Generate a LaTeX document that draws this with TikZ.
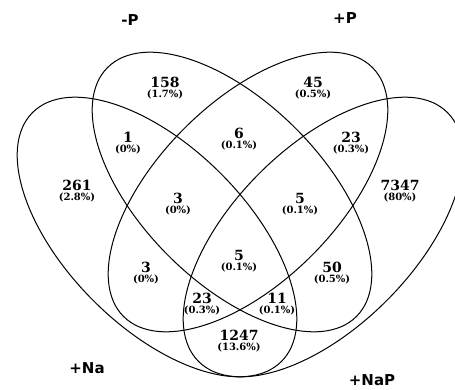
\documentclass[tikz,border=0pt]{standalone}
\usepackage{fontspec}
\newfontfamily\numfont{DejaVu Serif}
\newfontfamily\labfont{DejaVu Sans}
\tikzset{
  setline/.style={line width=1pt, draw=black},
  numtxt/.style={font=\numfont\bfseries\fontsize{14}{14}\selectfont, inner sep=0pt},
  pcttxt/.style={font=\numfont\bfseries\fontsize{10}{10}\selectfont, inner sep=0pt},
  settxt/.style={font=\labfont\bfseries\fontsize{15}{15}\selectfont, inner sep=0pt},
}
\newcommand\vregion[5]{%
  \node[numtxt] (#1n) at (#2,{389-#3}) {#4};
  \node[pcttxt] (#1p) at (#2,{389-#3-12}) {#5};
}
\begin{document}
\begin{tikzpicture}[x=1pt,y=1pt]
\useasboundingbox (0,0) rectangle (455,389);
\clip (0,0) rectangle (455,389);
\fill[white] (0,0) rectangle (455,389);
% ellipses: +Na, -P, +P, +NaP
\draw[setline, rotate around={-45:(157,152)}] (157,152) ellipse [x radius=176, y radius=90];
\draw[setline, rotate around={-45:(232,197)}] (232,197) ellipse [x radius=176, y radius=90];
\draw[setline, rotate around={45:(248,197)}] (248,197) ellipse [x radius=176, y radius=90];
\draw[setline, rotate around={45:(323,152)}] (323,152) ellipse [x radius=176, y radius=90];
% set labels
\node[settxt] (lmP) at (130,{389-20}) {-P};
\node[settxt] (lpP) at (345,{389-18}) {+P};
\node[settxt] (lNa) at (87,{389-368}) {+Na};
\node[settxt] (lNaP) at (372,{389-380}) {+NaP};
% regions
\vregion{r1}{165}{82}{158}{(1.7\%)}
\vregion{r2}{313}{82}{45}{(0.5\%)}
\vregion{r3}{128}{137}{1}{(0\%)}
\vregion{r4}{239}{133}{6}{(0.1\%)}
\vregion{r5}{351}{137}{23}{(0.3\%)}
\vregion{r6}{77}{185}{261}{(2.8\%)}
\vregion{r7}{178}{198}{3}{(0\%)}
\vregion{r8}{300}{198}{5}{(0.1\%)}
\vregion{r9}{400}{185}{7347}{(80\%)}
\vregion{r10}{239}{255}{5}{(0.1\%)}
\vregion{r11}{146}{267}{3}{(0\%)}
\vregion{r12}{332}{267}{50}{(0.5\%)}
\vregion{r13}{202}{298}{23}{(0.3\%)}
\vregion{r14}{277}{298}{11}{(0.1\%)}
\vregion{r15}{239}{335}{1247}{(13.6\%)}
\end{tikzpicture}
\end{document}
